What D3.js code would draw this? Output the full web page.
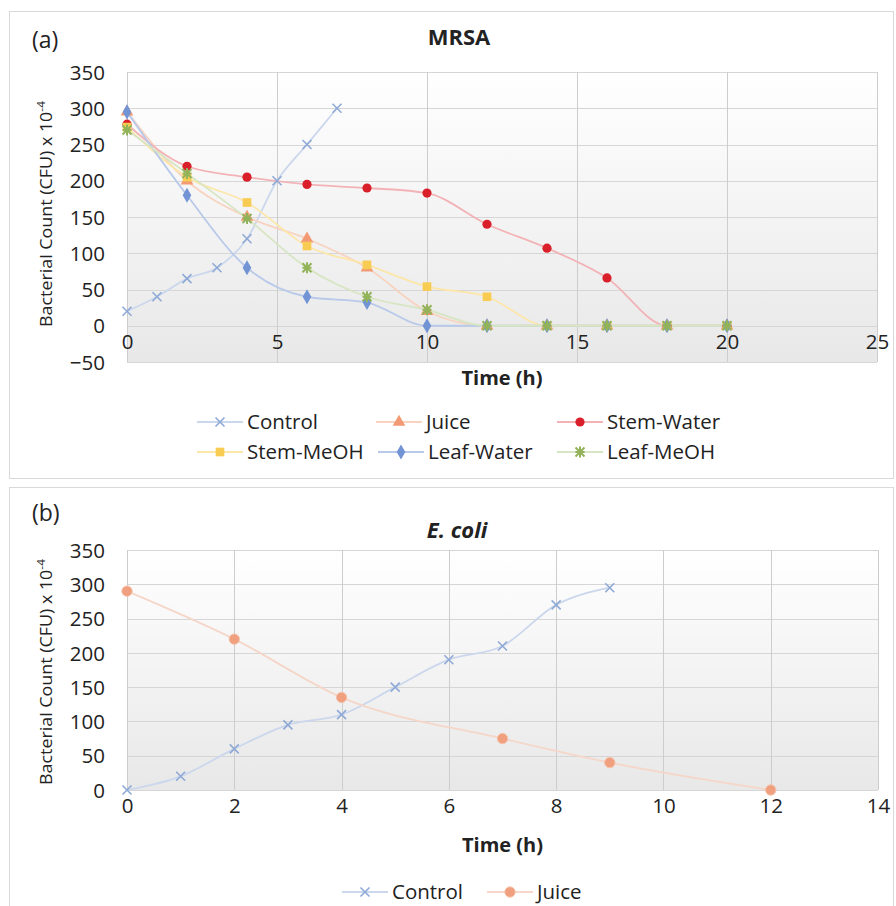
<!DOCTYPE html>
<html>
<head>
<meta charset="utf-8">
<script src="https://cdn.jsdelivr.net/npm/d3@7/dist/d3.min.js"></script>
<style>
  html, body { margin: 0; padding: 0; background: #ffffff; }
  svg { display: block; }
  text { font-family: "Open Sans", Lato, sans-serif; fill: #222; }
</style>
</head>
<body>
<svg id="chart" width="896" height="906"></svg>
<script>
// ---------- DATA ----------
// Panel (a) MRSA
const mrsaTime = [0, 2, 4, 6, 8, 10, 12, 14, 16, 18, 20];
const mrsaControlTime = [0, 1, 2, 3, 4, 5, 6, 7];
const mrsaControl = [20, 40, 65, 80, 120, 200, 250, 300];
const mrsaJuice = [295, 200, 150, 120, 80, 20, 0, 0, 0, 0, 0];
const mrsaStemWater = [278, 220, 205, 195, 190, 183, 140, 107, 66, 0, 0];
const mrsaStemMeOH = [274, 205, 170, 110, 84, 54, 40, 0, 0, 0, 0];
const mrsaLeafWater = [295, 180, 80, 40, 32, 0, 0, 0, 0, 0, 0];
const mrsaLeafMeOH = [270, 210, 148, 80, 40, 22, 0, 0, 0, 0, 0];
const mrsaXTicks = [0, 5, 10, 15, 20, 25];
const mrsaYTicks = [-50, 0, 50, 100, 150, 200, 250, 300, 350];

// Panel (b) E. coli
const ecoliControlTime = [0, 1, 2, 3, 4, 5, 6, 7, 8, 9];
const ecoliControl = [0, 20, 60, 95, 110, 150, 190, 210, 270, 295];
const ecoliJuiceTime = [0, 2, 4, 7, 9, 12];
const ecoliJuice = [290, 220, 135, 75, 40, 0];
const ecoliXTicks = [0, 2, 4, 6, 8, 10, 12, 14];
const ecoliYTicks = [0, 50, 100, 150, 200, 250, 300, 350];

const seriesNamesA = ["Control", "Juice", "Stem-Water", "Stem-MeOH", "Leaf-Water", "Leaf-MeOH"];
const seriesNamesB = ["Control", "Juice"];

// ---------- STYLES ----------
const styles = {
  "Control":    {marker: "cross",    mcol: "#8fa9d6", lcol: "#cbd7ec"},
  "Juice":      {marker: "triangle", mcol: "#f29a74", lcol: "#f8d3c0"},
  "Stem-Water": {marker: "circle",   mcol: "#d81f2a", lcol: "#f3b3b6"},
  "Stem-MeOH":  {marker: "square",   mcol: "#f8cc52", lcol: "#fce6a8"},
  "Leaf-Water": {marker: "diamond",  mcol: "#7294d4", lcol: "#b8c9ea"},
  "Leaf-MeOH":  {marker: "star",     mcol: "#92b35a", lcol: "#d6e5c2"},
  "JuiceB":     {marker: "circleO",  mcol: "#f0a07e", lcol: "#f5d6c8"}
};

const svg = d3.select("#chart");
const defs = svg.append("defs");
const grad = defs.append("linearGradient").attr("id", "bg").attr("x1", 0).attr("y1", 0).attr("x2", 0).attr("y2", 1);
grad.append("stop").attr("offset", "0%").attr("stop-color", "#ffffff");
grad.append("stop").attr("offset", "100%").attr("stop-color", "#e8e8e8");

function drawMarker(g, type, x, y, col) {
  if (type === "cross") {
    const s = 4.5;
    g.append("path").attr("d", `M${x-s},${y-s}L${x+s},${y+s}M${x-s},${y+s}L${x+s},${y-s}`)
      .attr("stroke", col).attr("stroke-width", 1.6).attr("fill", "none");
  } else if (type === "star") {
    const s = 4.5;
    g.append("path").attr("d", `M${x-s},${y-s}L${x+s},${y+s}M${x-s},${y+s}L${x+s},${y-s}M${x},${y-s-1}L${x},${y+s+1}M${x-s},${y}L${x+s},${y}`)
      .attr("stroke", col).attr("stroke-width", 2).attr("fill", "none");
  } else if (type === "circle") {
    g.append("circle").attr("cx", x).attr("cy", y).attr("r", 4.6).attr("fill", col);
  } else if (type === "circleO") {
    g.append("circle").attr("cx", x).attr("cy", y).attr("r", 5.2).attr("fill", col).attr("stroke", "#f6c3ad").attr("stroke-width", 1);
  } else {
    const sym = {triangle: d3.symbolTriangle, square: d3.symbolSquare, diamond: d3.symbolDiamond}[type];
    const size = {triangle: 70, square: 75, diamond: 65}[type];
    g.append("path").attr("d", d3.symbol().type(sym).size(size)())
      .attr("transform", `translate(${x},${y})`).attr("fill", col);
  }
}

function panel(cfg) {
  const g = svg.append("g");
  // outer border
  g.append("rect").attr("x", cfg.box[0] + 0.5).attr("y", cfg.box[1] + 0.5)
    .attr("width", cfg.box[2]).attr("height", cfg.box[3])
    .attr("fill", "#fff").attr("stroke", "#d9d9d9").attr("stroke-width", 1);

  const x = d3.scaleLinear().domain(cfg.xDomain).range([cfg.left, cfg.right]);
  const y = d3.scaleLinear().domain(cfg.yDomain).range([cfg.bottom, cfg.top]);

  // plot background
  g.append("rect").attr("x", cfg.left).attr("y", cfg.top)
    .attr("width", cfg.right - cfg.left).attr("height", cfg.bottom - cfg.top)
    .attr("fill", "url(#bg)");

  // horizontal gridlines
  g.append("g").selectAll("line").data(cfg.yTicks).join("line")
    .attr("x1", cfg.left).attr("x2", cfg.right)
    .attr("y1", d => Math.round(y(d)) + 0.5).attr("y2", d => Math.round(y(d)) + 0.5)
    .attr("stroke", "#d6d6d6").attr("stroke-width", 1.2);
  // vertical gridlines
  g.append("g").selectAll("line").data(cfg.xTicks).join("line")
    .attr("y1", cfg.top).attr("y2", cfg.bottom)
    .attr("x1", d => Math.round(x(d)) + 0.5).attr("x2", d => Math.round(x(d)) + 0.5)
    .attr("stroke", "#cdcdcd").attr("stroke-width", 1);

  // y axis labels
  const yAxis = d3.axisLeft(y).tickValues(cfg.yTicks).tickSize(0).tickPadding(0);
  const ya = g.append("g").attr("transform", `translate(${cfg.left - 22},0)`).call(yAxis);
  ya.select(".domain").remove();
  ya.selectAll("text").attr("font-family", "'Open Sans', sans-serif").attr("font-size", 20.5).attr("fill", "#333").attr("dy", "0.35em");

  // x axis labels (placed next to the y=0 line)
  const xAxis = d3.axisBottom(x).tickValues(cfg.xTicks).tickSize(0).tickPadding(0);
  const xa = g.append("g").attr("transform", `translate(0,${y(0) + 16})`).call(xAxis);
  xa.select(".domain").remove();
  xa.selectAll("text").attr("font-family", "'Open Sans', sans-serif").attr("font-size", 20.5).attr("fill", "#333").attr("dy", "0.35em");

  // series
  cfg.series.forEach(s => {
    const st = styles[s.style];
    const pts = s.t.map((t, i) => [t, s.v[i]]);
    const line = d3.line().x(d => x(d[0])).y(d => y(d[1])).curve(d3.curveMonotoneX);
    g.append("path").attr("d", line(pts)).attr("fill", "none").attr("stroke", st.lcol).attr("stroke-width", 1.8);
  });
  cfg.series.forEach(s => {
    const st = styles[s.style];
    const mg = g.append("g");
    s.t.forEach((t, i) => drawMarker(mg, st.marker, x(t), y(s.v[i]), st.mcol));
  });

  // panel label
  g.append("text").attr("x", 32).attr("y", cfg.labelY).attr("font-size", 23).attr("fill", "#222").text(cfg.label);
  // title
  const tt = g.append("text").attr("x", cfg.titleX).attr("y", cfg.titleY).attr("text-anchor", "middle")
    .attr("font-size", 22).attr("font-weight", "bold").attr("fill", "#111");
  if (cfg.italic) tt.attr("font-style", "italic");
  tt.text(cfg.title);

  // x title
  g.append("text").attr("x", (cfg.left + cfg.right) / 2).attr("y", cfg.xTitleY).attr("text-anchor", "middle")
    .attr("font-size", 20).attr("font-weight", "bold").attr("fill", "#111").attr("dy", "0.35em").text("Time (h)");

  // y title
  const cy = cfg.yTitleCenter;
  const yt = g.append("text").attr("transform", `translate(52,${cy}) rotate(-90)`).attr("text-anchor", "middle")
    .attr("font-family", "'Liberation Sans Narrow', 'Liberation Sans', Arial, sans-serif")
    .attr("font-size", 16.5).attr("fill", "#111")
    .attr("textLength", 226).attr("lengthAdjust", "spacingAndGlyphs");
  yt.append("tspan").text("Bacterial Count (CFU) x 10");
  yt.append("tspan").attr("dy", -7).attr("font-size", 11).text("-4");

  // legend
  cfg.legend.forEach(l => {
    const st = styles[l.style];
    g.append("line").attr("x1", l.x - 23).attr("x2", l.x + 23).attr("y1", l.y).attr("y2", l.y)
      .attr("stroke", st.lcol).attr("stroke-width", 1.8);
    drawMarker(g, st.marker, l.x, l.y, st.mcol);
    g.append("text").attr("x", l.x + 27).attr("y", l.y).attr("dy", "0.35em")
      .attr("font-size", 20.5).attr("fill", "#222").text(l.name);
  });
}

panel({
  box: [9, 11, 884, 467],
  xDomain: [0, 25], yDomain: [-50, 350],
  left: 127, right: 877, top: 72, bottom: 362,
  xTicks: mrsaXTicks, yTicks: mrsaYTicks,
  label: "(a)", labelY: 48,
  title: "MRSA", titleX: 459, titleY: 45, italic: false,
  xTitleY: 378, yTitleCenter: 214,
  series: [
    {t: mrsaControlTime, v: mrsaControl, style: "Control"},
    {t: mrsaTime, v: mrsaJuice, style: "Juice"},
    {t: mrsaTime, v: mrsaStemWater, style: "Stem-Water"},
    {t: mrsaTime, v: mrsaStemMeOH, style: "Stem-MeOH"},
    {t: mrsaTime, v: mrsaLeafWater, style: "Leaf-Water"},
    {t: mrsaTime, v: mrsaLeafMeOH, style: "Leaf-MeOH"}
  ],
  legend: [
    {name: seriesNamesA[0], style: "Control", x: 220, y: 422},
    {name: seriesNamesA[1], style: "Juice", x: 399, y: 422},
    {name: seriesNamesA[2], style: "Stem-Water", x: 580, y: 422},
    {name: seriesNamesA[3], style: "Stem-MeOH", x: 220, y: 452},
    {name: seriesNamesA[4], style: "Leaf-Water", x: 401, y: 452},
    {name: seriesNamesA[5], style: "Leaf-MeOH", x: 580, y: 452}
  ]
});

panel({
  box: [9, 487, 884, 430],
  xDomain: [0, 14], yDomain: [0, 350],
  left: 127, right: 878, top: 550, bottom: 790,
  xTicks: ecoliXTicks, yTicks: ecoliYTicks,
  label: "(b)", labelY: 521,
  title: "E. coli", titleX: 457, titleY: 538, italic: true,
  xTitleY: 845, yTitleCenter: 672,
  series: [
    {t: ecoliControlTime, v: ecoliControl, style: "Control"},
    {t: ecoliJuiceTime, v: ecoliJuice, style: "JuiceB"}
  ],
  legend: [
    {name: seriesNamesB[0], style: "Control", x: 365, y: 892},
    {name: seriesNamesB[1], style: "JuiceB", x: 510, y: 892}
  ]
});
</script>
</body>
</html>
